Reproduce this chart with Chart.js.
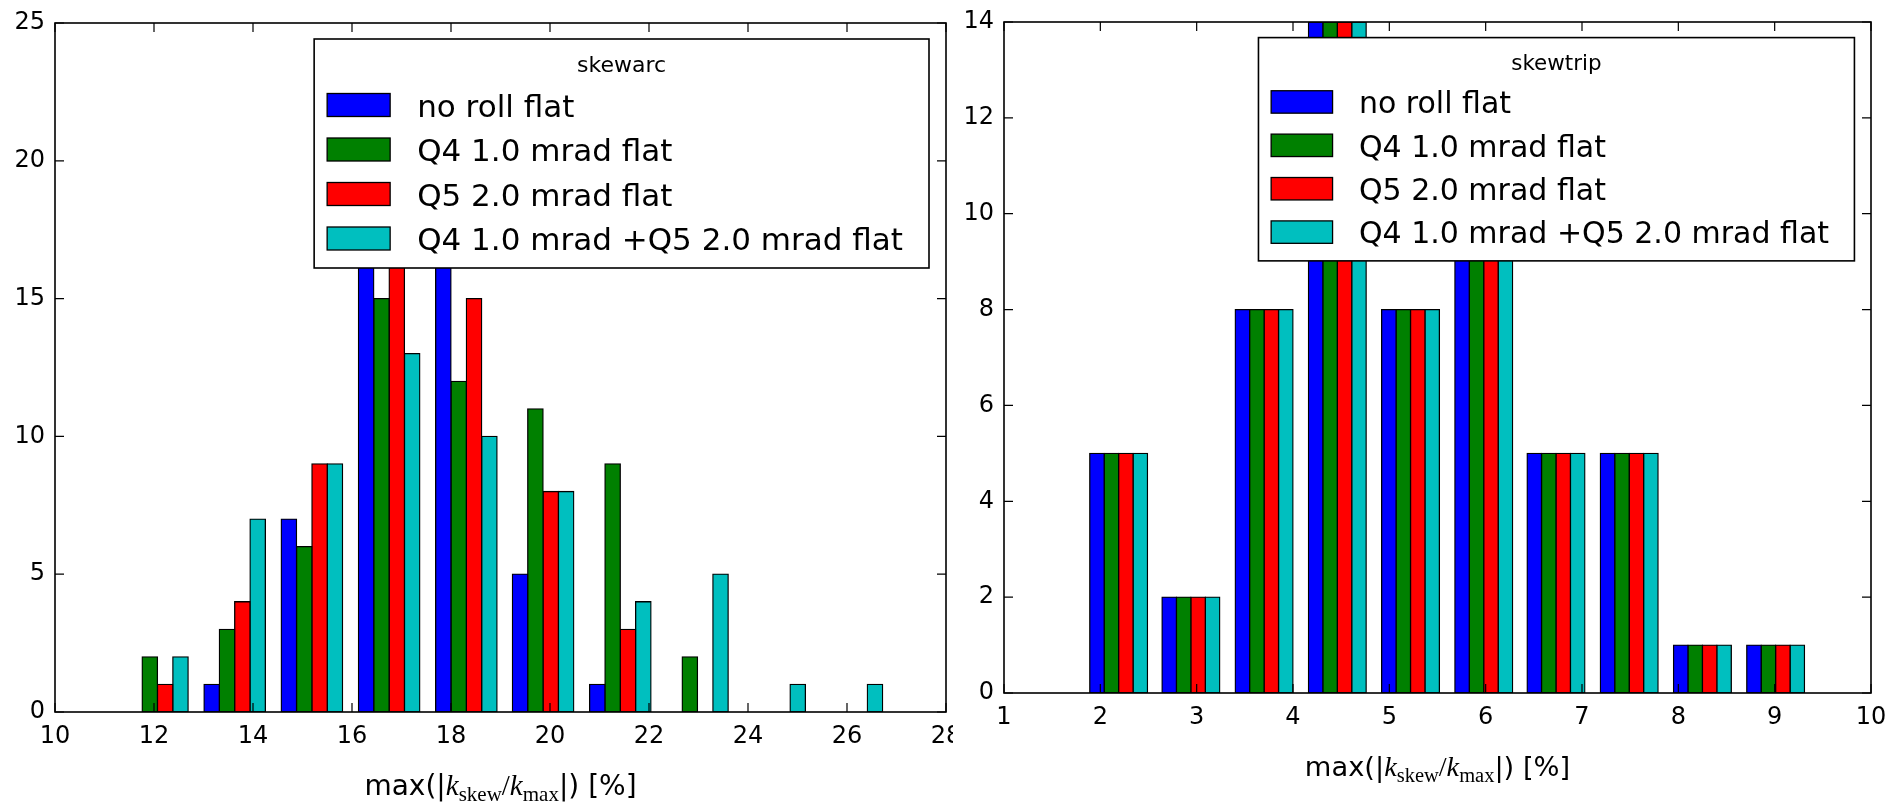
<!DOCTYPE html>
<html>
<head>
<meta charset="utf-8">
<script src="https://cdn.jsdelivr.net/npm/chart.js@4.4.1/dist/chart.umd.min.js"></script>
<style>
  html, body { margin: 0; padding: 0; background: #fff; overflow: hidden; }
  #wrap { position: relative; width: 1895px; height: 806px; }
  #arcBox { position: absolute; left: 0; top: 0; width: 953px; height: 806px; }
  #tripBox { position: absolute; left: 953px; top: 0; width: 942px; height: 806px; }
</style>
</head>
<body>
<div id="wrap">
  <div id="arcBox"><canvas id="arcChart"></canvas></div>
  <div id="tripBox"><canvas id="tripChart"></canvas></div>
</div>
<script>
const seriesLabels = ['no roll flat', 'Q4 1.0 mrad flat', 'Q5 2.0 mrad flat', 'Q4 1.0 mrad +Q5 2.0 mrad flat'];
const seriesColors = ['#0000ff', '#008000', '#ff0000', '#00bfbf'];

// skewarc: histogram bin centres and counts per run
const arcTitle = 'skewarc';
const arcBins = [12.07, 13.63, 15.19, 16.75, 18.31, 19.86, 21.42, 22.98, 24.54, 26.10];
const arcNoRoll = [0, 1, 7, 23, 23, 5, 1, 0, 0, 0];
const arcQ4 = [2, 3, 6, 15, 12, 11, 9, 2, 0, 0];
const arcQ5 = [1, 4, 9, 20, 15, 8, 3, 0, 0, 0];
const arcQ4Q5 = [2, 7, 9, 13, 10, 8, 4, 5, 1, 1];
const arcXTicks = [10, 12, 14, 16, 18, 20, 22, 24, 26, 28];
const arcYTicks = [0, 5, 10, 15, 20, 25];

// skewtrip: same runs, identical counts for all four
const tripTitle = 'skewtrip';
const tripBins = [2.19, 2.94, 3.70, 4.46, 5.22, 5.98, 6.73, 7.49, 8.25, 9.01];
const tripNoRoll = [5, 2, 8, 14, 8, 11, 5, 5, 1, 1];
const tripQ4 = [5, 2, 8, 14, 8, 11, 5, 5, 1, 1];
const tripQ5 = [5, 2, 8, 14, 8, 11, 5, 5, 1, 1];
const tripQ4Q5 = [5, 2, 8, 14, 8, 11, 5, 5, 1, 1];
const tripXTicks = [1, 2, 3, 4, 5, 6, 7, 8, 9, 10];
const tripYTicks = [0, 2, 4, 6, 8, 10, 12, 14];

// x axis label, drawn piece by piece (sans text + math italic k with roman subscripts)
const xLabelRuns = [
  { text: 'max(|', kind: 'sans' },
  { text: 'k', kind: 'mathit' },
  { text: 'skew', kind: 'sub' },
  { text: '/', kind: 'mathrm' },
  { text: 'k', kind: 'mathit' },
  { text: 'max', kind: 'sub' },
  { text: '|) [%]', kind: 'sans' }
];

const FONT = '"DejaVu Sans", sans-serif';
const SERIF = '"Liberation Serif", "DejaVu Serif", serif';

// inward tick marks on all four sides plus the axes frame
const axesFrame = {
  id: 'axesFrame',
  afterDatasetsDraw(chart, args, opts) {
    const { ctx, chartArea: a } = chart;
    const x = chart.scales.x, y = chart.scales.y;
    const len = opts.tickLength;
    ctx.save();
    ctx.strokeStyle = '#000';
    ctx.lineWidth = 1.2;
    ctx.beginPath();
    x.ticks.forEach(t => {
      const px = x.getPixelForValue(t.value);
      ctx.moveTo(px, a.bottom); ctx.lineTo(px, a.bottom - len);
      ctx.moveTo(px, a.top); ctx.lineTo(px, a.top + len);
    });
    y.ticks.forEach(t => {
      const py = y.getPixelForValue(t.value);
      ctx.moveTo(a.left, py); ctx.lineTo(a.left + len, py);
      ctx.moveTo(a.right, py); ctx.lineTo(a.right - len, py);
    });
    ctx.stroke();
    ctx.lineWidth = 1.6;
    ctx.strokeRect(a.left, a.top, a.right - a.left, a.bottom - a.top);
    ctx.restore();
  }
};

// boxed legend with a title, anchored upper right inside the plot
const boxLegend = {
  id: 'boxLegend',
  afterDraw(chart, args, o) {
    const { ctx, chartArea: a } = chart;
    const s = o.scale;
    const items = chart.data.datasets;
    ctx.save();
    ctx.font = o.fontSize + 'px ' + FONT;
    const textW = Math.max(...items.map(d => ctx.measureText(d.label).width));
    const padL = 13 * s, hw = 63 * s, hh = 23 * s, gap = 27 * s, padR = 26 * s;
    const w = padL + hw + gap + textW + padR;
    const h = 229 * s;
    const right = a.right - 17 * s;
    const top = a.top + 16 * s;
    const left = right - w;
    ctx.fillStyle = '#fff';
    ctx.fillRect(left, top, w, h);
    ctx.strokeStyle = '#000';
    ctx.lineWidth = 1.6;
    ctx.strokeRect(left, top, w, h);

    ctx.fillStyle = '#000';
    ctx.textAlign = 'center';
    ctx.textBaseline = 'alphabetic';
    ctx.font = o.titleSize + 'px ' + FONT;
    ctx.fillText(o.title, left + w / 2, top + 33 * s);

    ctx.font = o.fontSize + 'px ' + FONT;
    ctx.textAlign = 'left';
    items.forEach((d, i) => {
      const cy = top + 66 * s + i * 44.5 * s;
      ctx.fillStyle = d.backgroundColor;
      ctx.fillRect(left + padL, cy - hh / 2, hw, hh);
      ctx.lineWidth = 1.3;
      ctx.strokeRect(left + padL, cy - hh / 2, hw, hh);
      ctx.fillStyle = '#000';
      ctx.fillText(d.label, left + padL + hw + gap, cy + 11.5 * s);
    });
    ctx.restore();
  }
};

// x axis title with mathtext-like subscripts
const mathLabel = {
  id: 'mathLabel',
  afterDraw(chart, args, o) {
    const { ctx, chartArea: a } = chart;
    const s = o.scale;
    const fonts = {
      sans: { font: (28 * s) + 'px ' + FONT, dy: 0 },
      mathit: { font: 'italic ' + (29 * s) + 'px ' + SERIF, dy: 0 },
      mathrm: { font: (29 * s) + 'px ' + SERIF, dy: 0 },
      sub: { font: (21 * s) + 'px ' + SERIF, dy: 6 * s }
    };
    ctx.save();
    ctx.fillStyle = '#000';
    ctx.textAlign = 'left';
    ctx.textBaseline = 'alphabetic';
    const widths = xLabelRuns.map(r => {
      ctx.font = fonts[r.kind].font;
      return ctx.measureText(r.text).width;
    });
    const total = widths.reduce((p, c) => p + c, 0);
    let x = (a.left + a.right) / 2 - total / 2;
    const base = a.bottom + o.offset;
    xLabelRuns.forEach((r, i) => {
      ctx.font = fonts[r.kind].font;
      ctx.fillText(r.text, x, base + fonts[r.kind].dy);
      x += widths[i];
    });
    ctx.restore();
  }
};

function makeHist(canvasId, cfg) {
  const datasets = cfg.series.map((vals, i) => ({
    label: seriesLabels[i],
    data: vals.map((v, j) => ({ x: cfg.bins[j], y: v })),
    backgroundColor: seriesColors[i],
    borderColor: '#000',
    borderWidth: 1.3,
    inflateAmount: 0.65, // centre the edge line on the bar boundary so neighbours share it
    borderSkipped: false,
    categoryPercentage: 0.8,
    barPercentage: 1.0
  }));

  const tickFont = { family: FONT, size: 24 };

  return new Chart(document.getElementById(canvasId), {
    type: 'bar',
    data: { datasets },
    options: {
      animation: false,
      responsive: true,
      maintainAspectRatio: false,
      layout: { autoPadding: false, padding: cfg.padding },
      scales: {
        x: {
          type: 'linear',
          min: cfg.xTicks[0],
          max: cfg.xTicks[cfg.xTicks.length - 1],
          offset: false,
          grid: { display: false, drawTicks: false },
          border: { display: false },
          ticks: { color: '#000', font: tickFont, padding: 10, maxRotation: 0, autoSkip: false },
          afterBuildTicks: sc => { sc.ticks = cfg.xTicks.map(v => ({ value: v })); },
          afterFit: sc => {
            sc.height = cfg.xHeight;
            // end labels may hang past the plot edge; don't let them shrink it
            sc.paddingLeft = 0;
            sc.paddingRight = 0;
          }
        },
        y: {
          min: cfg.yTicks[0],
          max: cfg.yTicks[cfg.yTicks.length - 1],
          grid: { display: false, drawTicks: false },
          border: { display: false },
          ticks: { color: '#000', font: tickFont, padding: 10 },
          afterBuildTicks: sc => { sc.ticks = cfg.yTicks.map(v => ({ value: v })); },
          afterFit: sc => {
            sc.width = cfg.yWidth;
            sc.paddingTop = 0;
            sc.paddingBottom = 0;
          }
        }
      },
      plugins: {
        legend: { display: false },
        tooltip: { enabled: false },
        axesFrame: { tickLength: 9 },
        boxLegend: { title: cfg.title, scale: cfg.scale, fontSize: cfg.legendSize, titleSize: 22 * cfg.scale },
        mathLabel: { scale: cfg.scale, offset: 83 }
      }
    },
    plugins: [axesFrame, boxLegend, mathLabel]
  });
}

makeHist('arcChart', {
  title: arcTitle,
  bins: arcBins,
  series: [arcNoRoll, arcQ4, arcQ5, arcQ4Q5],
  xTicks: arcXTicks,
  yTicks: arcYTicks,
  padding: { top: 23, right: 7, left: 0, bottom: 0 },
  yWidth: 55,
  xHeight: 94,
  scale: 1,
  legendSize: 31
});

makeHist('tripChart', {
  title: tripTitle,
  bins: tripBins,
  series: [tripNoRoll, tripQ4, tripQ5, tripQ4Q5],
  xTicks: tripXTicks,
  yTicks: tripYTicks,
  padding: { top: 22, right: 24, left: 0, bottom: 0 },
  yWidth: 51,
  xHeight: 113,
  scale: 0.975,
  legendSize: 30
});
</script>
</body>
</html>
